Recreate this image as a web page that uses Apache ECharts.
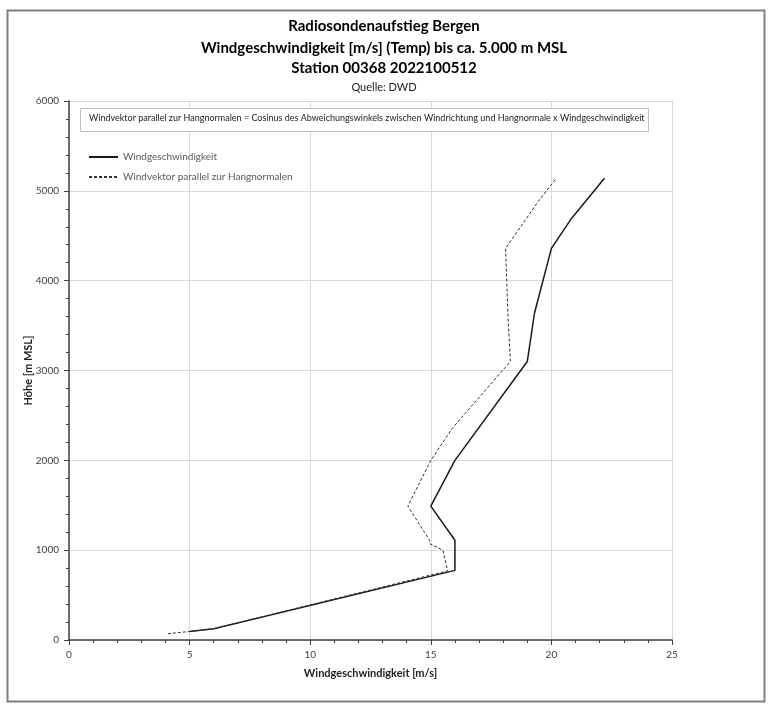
<!DOCTYPE html>
<html>
<head>
<meta charset="utf-8">
<script src="https://cdn.jsdelivr.net/npm/echarts@6/dist/echarts.min.js"></script>
<style>html,body{margin:0;padding:0;background:#fff}#c{width:768px;height:712px}</style>
</head>
<body>
<div id="c"></div>
<script>
// Data
const titleLines = ['Radiosondenaufstieg Bergen', 'Windgeschwindigkeit [m/s] (Temp) bis ca. 5.000 m MSL', 'Station 00368 2022100512'];
const sourceText = 'Quelle: DWD';
const noteText = 'Windvektor parallel zur Hangnormalen = Cosinus des Abweichungswinkels zwischen Windrichtung und Hangnormale x Windgeschwindigkeit';
const seriesNames = ['Windgeschwindigkeit', 'Windvektor parallel zur Hangnormalen'];
const xAxisName = 'Windgeschwindigkeit [m/s]';
const yAxisName = 'Höhe [m MSL]';

const speedX = [5, 6, 16, 16, 15, 16, 19, 19.3, 20, 20.8, 22.2];
const speedY = [95, 125, 775, 1110, 1490, 2000, 3100, 3640, 4360, 4680, 5140];

const normalX = [4.1, 5, 6, 15.7, 15.5, 14.97, 14.95, 14.05, 15.0, 15.9, 18.3, 18.2, 18.1, 19.45, 20.2];
const normalY = [70, 95, 125, 770, 1000, 1070, 1110, 1490, 2000, 2360, 3100, 3600, 4360, 4880, 5140];

const xTicks = {min: 0, max: 25, interval: 5};
const yTicks = {min: 0, max: 6000, interval: 1000};

const pairs = (xs, ys) => xs.map((x, i) => [x, ys[i]]);
const FONT = 'Lato';

const chart = echarts.init(document.getElementById('c'));
chart.setOption({
  animation: false,
  backgroundColor: '#fff',
  textStyle: {fontFamily: FONT},
  title: [
    {text: titleLines[0], left: 'center', top: 14, textStyle: {fontFamily: FONT, fontSize: 15, fontWeight: 'bold', color: '#000'}},
    {text: titleLines[1], left: 'center', top: 36, textStyle: {fontFamily: FONT, fontSize: 15, fontWeight: 'bold', color: '#000'}},
    {text: titleLines[2], left: 'center', top: 56, textStyle: {fontFamily: FONT, fontSize: 15, fontWeight: 'bold', color: '#000'}},
    {text: sourceText, left: 'center', top: 77, textStyle: {fontFamily: FONT, fontSize: 11, fontWeight: 'normal', color: '#222'}}
  ],
  grid: {left: 69, right: 96, top: 101, bottom: 72, containLabel: false},
  legend: {
    orient: 'vertical', left: 83, top: 147, itemWidth: 29, itemHeight: 10, itemGap: 10,
    data: seriesNames,
    itemStyle: {opacity: 0},
    textStyle: {fontFamily: FONT, fontSize: 10, color: '#595959'}
  },
  xAxis: {
    type: 'value', min: xTicks.min, max: xTicks.max, interval: xTicks.interval,
    name: xAxisName, nameLocation: 'middle', nameGap: 28, nameMoveOverlap: false,
    nameTextStyle: {fontFamily: FONT, fontSize: 11, fontWeight: 'bold', color: '#222'},
    axisLine: {show: true, lineStyle: {color: '#404040', width: 1.5}},
    axisTick: {show: true, length: 5, lineStyle: {color: '#404040'}},
    minorTick: {show: true, splitNumber: 5, length: 3, lineStyle: {color: '#404040'}},
    axisLabel: {fontFamily: FONT, fontSize: 10, color: '#404040', margin: 10, formatter: v => String(v)},
    splitLine: {show: true, lineStyle: {color: '#d9d9d9', width: 1}}
  },
  yAxis: {
    type: 'value', min: yTicks.min, max: yTicks.max, interval: yTicks.interval,
    name: yAxisName, nameLocation: 'middle', nameGap: 35, nameRotate: 90, nameMoveOverlap: false,
    nameTextStyle: {fontFamily: FONT, fontSize: 11, fontWeight: 'bold', color: '#222'},
    axisLine: {show: true, lineStyle: {color: '#404040', width: 1.5}},
    axisTick: {show: true, length: 5, lineStyle: {color: '#404040'}},
    minorTick: {show: true, splitNumber: 5, length: 3, lineStyle: {color: '#404040'}},
    axisLabel: {fontFamily: FONT, fontSize: 10, color: '#404040', margin: 10, formatter: v => String(v)},
    splitLine: {show: true, lineStyle: {color: '#d9d9d9', width: 1}}
  },
  series: [
    {
      name: seriesNames[0], type: 'line', data: pairs(speedX, speedY),
      showSymbol: false, symbol: 'none', smooth: false,
      lineStyle: {color: '#1a1a1a', width: 1.5, type: 'solid'},
      itemStyle: {color: '#1a1a1a'}
    },
    {
      name: seriesNames[1], type: 'line', data: pairs(normalX, normalY),
      showSymbol: false, symbol: 'none', smooth: false,
      lineStyle: {color: '#333', width: 1, type: [3, 2]},
      itemStyle: {color: '#333'}
    }
  ],
  graphic: [
    {type: 'rect', left: 5, top: 8, shape: {width: 757, height: 691}, style: {fill: 'none', stroke: '#7f7f7f', lineWidth: 2}, silent: true, z: 100},
    {type: 'rect', left: 80, top: 108, shape: {width: 568, height: 23}, style: {fill: '#fff', stroke: '#bfbfbf', lineWidth: 1}, z: 50},
    {type: 'text', left: 89, top: 114, style: {text: noteText, fontFamily: FONT, fontSize: 9, fill: '#222'}, z: 51}
  ]
});
</script>
</body>
</html>
